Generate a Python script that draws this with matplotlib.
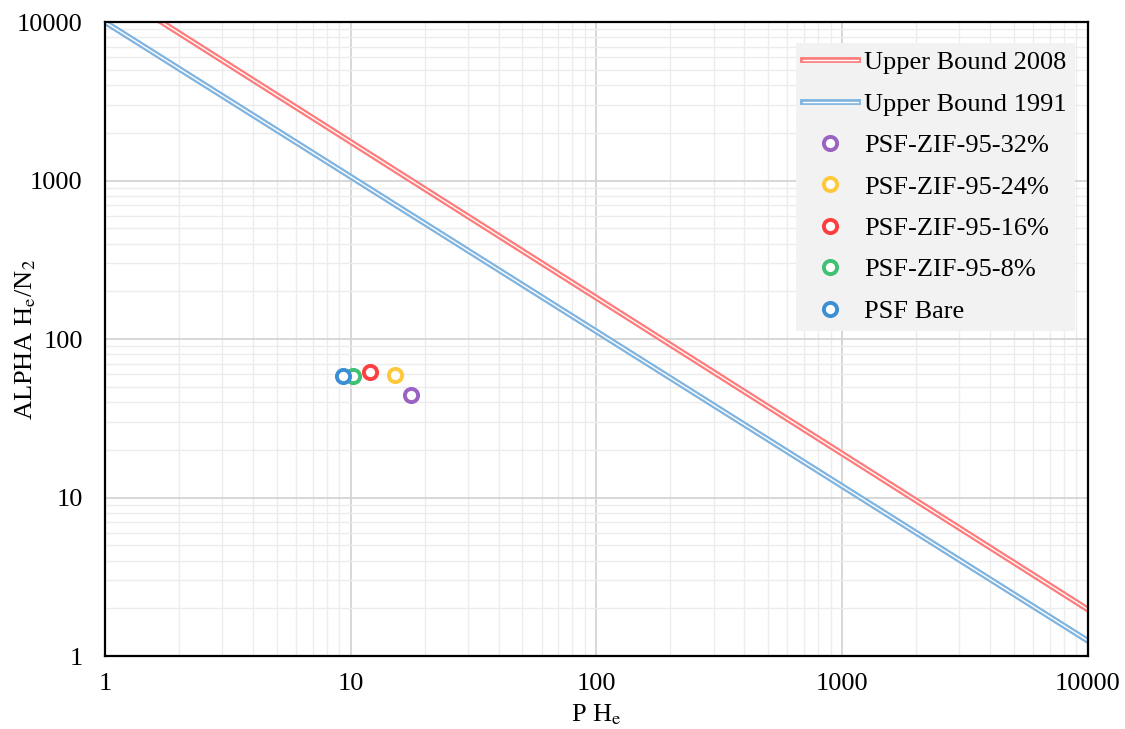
import matplotlib
matplotlib.use("Agg")
import matplotlib.pyplot as plt
import matplotlib.patheffects as pe
from matplotlib.ticker import FuncFormatter, LogLocator, NullFormatter

# Upper bound lines (endpoints)
ub2008_p = [1.7, 10000]
ub2008_a = [10000, 1.97]
ub1991_p = [1.0, 10000]
ub1991_a = [10000, 1.25]

# Membrane data points
labels = ["PSF-ZIF-95-32%", "PSF-ZIF-95-24%", "PSF-ZIF-95-16%", "PSF-ZIF-95-8%", "PSF Bare"]
perm = [17.6, 15.1, 12.0, 10.2, 9.3]
alpha = [44.3, 59.5, 61.5, 58.5, 58.5]
colors = ["#9a62c2", "#ffc83a", "#ff3f3f", "#3fc174", "#3d8fd4"]

plt.rcParams['font.family'] = ['Liberation Serif', 'DejaVu Serif']
plt.rcParams['mathtext.fontset'] = 'stix'

fig = plt.figure(figsize=(11.25, 7.29), dpi=100)
ax = fig.add_axes([0.0933, 0.1001, 0.8735, 0.8697])
ax.set_xscale('log')
ax.set_yscale('log')
ax.set_xlim(1, 10000)
ax.set_ylim(1, 10000)

ax.xaxis.set_minor_locator(LogLocator(base=10, subs=range(2, 10)))
ax.yaxis.set_minor_locator(LogLocator(base=10, subs=range(2, 10)))
ax.xaxis.set_minor_formatter(NullFormatter())
ax.yaxis.set_minor_formatter(NullFormatter())
ax.grid(which='major', color='#d4d4d4', lw=1.3)
ax.grid(which='minor', color='#ececec', lw=1.0)
ax.set_axisbelow(True)

fmt = FuncFormatter(lambda v, p: f"{int(round(v))}")
ax.xaxis.set_major_formatter(fmt)
ax.yaxis.set_major_formatter(fmt)
ax.tick_params(which='both', length=0, labelsize=19)
ax.tick_params(axis='x', pad=12)
ax.tick_params(axis='y', pad=16)

ax.plot(ub2008_p, ub2008_a, color='white', lw=1.0, label='Upper Bound 2008',
        path_effects=[pe.Stroke(linewidth=4.2, foreground='#ff7b7b'), pe.Normal()])
ax.plot(ub1991_p, ub1991_a, color='white', lw=1.0, label='Upper Bound 1991',
        path_effects=[pe.Stroke(linewidth=4.2, foreground='#80b4e0'), pe.Normal()])

for lab, x, y, c in zip(labels, perm, alpha, colors):
    ax.plot([x], [y], linestyle='none', marker='o', markersize=9.5, markerfacecolor='white',
            markeredgecolor=c, markeredgewidth=2.8, label=lab)

for s in ax.spines.values():
    s.set_color('black')
    s.set_linewidth(1.6)

ax.set_xlabel(r'P H$_\mathrm{e}$', fontsize=19)
ax.xaxis.set_label_coords(0.5, -0.073)
ax.set_ylabel(r'ALPHA H$_\mathrm{e}$/N$_2$', fontsize=19)
ax.yaxis.set_label_coords(-0.068, 0.5)

leg = ax.legend(loc='upper right', bbox_to_anchor=(0.9868, 0.9669), fontsize=19,
                frameon=True, fancybox=False, borderpad=0.3, labelspacing=0.68,
                handlelength=2.05, handletextpad=0.25, borderaxespad=0)
leg.get_frame().set_facecolor('#f2f2f2')
leg.get_frame().set_edgecolor('none')
leg.get_frame().set_alpha(1)

fig.savefig('out.png', dpi=100, facecolor='white')
